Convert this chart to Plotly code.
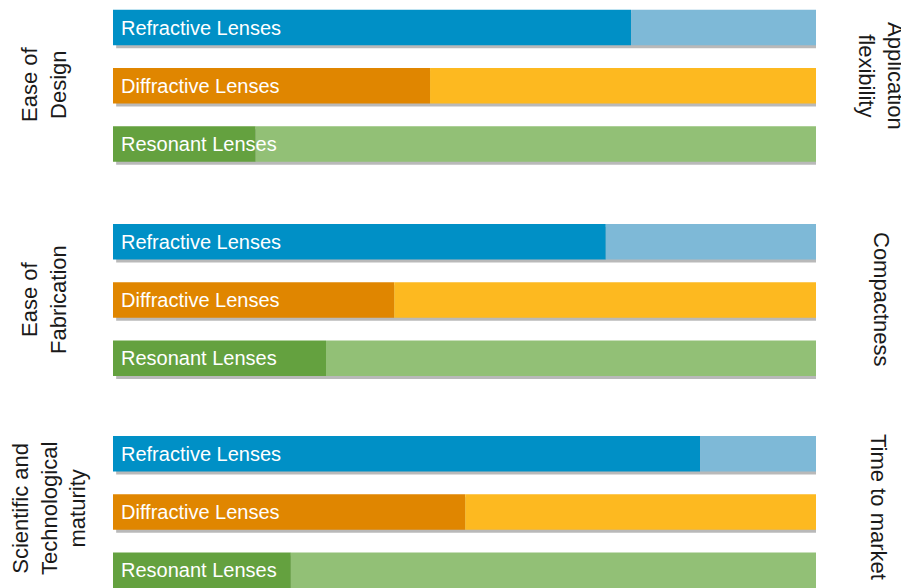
import plotly.graph_objects as go

# ---- data ----
lenses = ["Refractive Lenses", "Diffractive Lenses", "Resonant Lenses"]
left_criteria = ["Ease of<br>Design", "Ease of<br>Fabrication", "Scientific and<br>Technological<br>maturity"]
right_criteria = ["Application<br>flexibility", "Compactness", "Time to market"]
scores_design_flex = [73.7, 45.1, 20.3]
scores_fab_compact = [70.1, 40.0, 30.3]
scores_maturity_market = [83.5, 50.1, 25.3]
full_scale = 100

dark_colors = ["#0090C6", "#E08600", "#64A13F"]
light_colors = ["#7EB9D7", "#FDB920", "#92C076"]

groups = [scores_design_flex, scores_fab_compact, scores_maturity_market]

# page body has an 8px margin; the figure is sized to fill the rest of the window
OFF = 8
W, H = 909 - OFF, 588 - OFF
bar_w = 0.61
x_dom = [(113 - OFF) / W, (816 - OFF) / W]
y_doms = [[0.7153, 1.0], [0.3459, 0.6472], [0.0, 0.2817]]
y_ranges = [[2.5, -0.335], [2.5, -0.5], [2.304, -0.5]]

fig = go.Figure()
annotations = []
for g, vals in enumerate(groups):
    sfx = "" if g == 0 else str(g + 1)
    xa, ya = "x" + sfx, "y" + sfx
    rest = [full_scale - v for v in vals]
    # soft shadow
    fig.add_trace(go.Bar(orientation="h", y=lenses, x=[full_scale] * 3, base=0.45,
                         width=bar_w, offset=-bar_w / 2 + 0.05,
                         marker=dict(color="rgba(80,80,80,0.4)", line=dict(width=0)),
                         xaxis=xa, yaxis=ya, hoverinfo="skip", showlegend=False))
    fig.add_trace(go.Bar(orientation="h", y=lenses, x=vals, base=0,
                         width=bar_w, offset=-bar_w / 2,
                         marker=dict(color=dark_colors, line=dict(width=0)),
                         xaxis=xa, yaxis=ya, showlegend=False))
    fig.add_trace(go.Bar(orientation="h", y=lenses, x=rest, base=vals,
                         width=bar_w, offset=-bar_w / 2,
                         marker=dict(color=light_colors, line=dict(width=0)),
                         xaxis=xa, yaxis=ya, showlegend=False))
    for name in lenses:
        annotations.append(dict(x=0, y=name, xref=xa, yref=ya, text=name,
                                showarrow=False, xanchor="left", yanchor="middle",
                                xshift=6, font=dict(color="white", size=20)))
    fig.update_layout(**{
        "xaxis" + sfx: dict(domain=x_dom, range=[0, full_scale], visible=False,
                            anchor=ya, fixedrange=True),
        "yaxis" + sfx: dict(domain=y_doms[g], range=y_ranges[g], visible=False,
                            type="category", categoryarray=lenses, anchor=xa),
    })

left_pos = [(44, 85), (44, 300), (49, 509)]
right_pos = [(881, 76), (881, 299), (879, 507)]
for txt, (px, py) in zip(left_criteria, left_pos):
    annotations.append(dict(x=(px - OFF) / W, y=1 - (py - OFF) / H, xref="paper", yref="paper",
                            text=txt, showarrow=False, textangle=-90,
                            xanchor="center", yanchor="middle",
                            font=dict(color="#1a1a1a", size=22)))
for txt, (px, py) in zip(right_criteria, right_pos):
    annotations.append(dict(x=(px - OFF) / W, y=1 - (py - OFF) / H, xref="paper", yref="paper",
                            text=txt, showarrow=False, textangle=90,
                            xanchor="center", yanchor="middle",
                            font=dict(color="#1a1a1a", size=22)))

fig.update_layout(width=W, height=H, margin=dict(l=0, r=0, t=0, b=0),
                  barmode="overlay", plot_bgcolor="white", paper_bgcolor="white",
                  font=dict(family="Liberation Sans, Arial, sans-serif"),
                  annotations=annotations, showlegend=False)
fig.write_html("out.html")
